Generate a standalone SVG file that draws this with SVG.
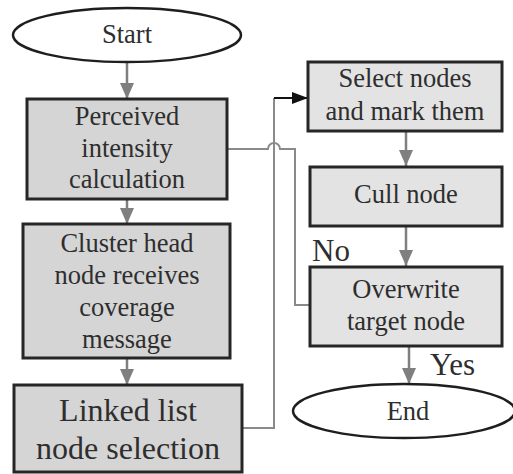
<svg xmlns="http://www.w3.org/2000/svg" width="513" height="474" viewBox="0 0 513 474">
<defs>
<style>
.t{font-family:"Liberation Serif","Times New Roman",serif;font-size:26.5px;fill:#2e2e2e;text-anchor:middle}
.big{font-size:32px}
.lbl{font-size:31px;text-anchor:start}
.boxL{fill:#d5d5d5;stroke:#262626;stroke-width:3}
.boxR{fill:#e3e3e3;stroke:#262626;stroke-width:3}
.ell{fill:#ffffff;stroke:#1e1e1e;stroke-width:2.5}
.arr{stroke:#7f7f7f;stroke-width:2.5;fill:none;marker-end:url(#ag)}
.ln{stroke:#8a8a8a;stroke-width:2;fill:none}
</style>
<marker id="ag" markerUnits="userSpaceOnUse" markerWidth="16" markerHeight="18" refX="16" refY="7" orient="auto" viewBox="0 0 16 14">
<path d="M0,0 L16,7 L0,14 Z" fill="#7f7f7f"/>
</marker>
<marker id="ab" markerUnits="userSpaceOnUse" markerWidth="16" markerHeight="14" refX="16" refY="6" orient="auto" viewBox="0 0 16 12">
<path d="M0,0 L16,6 L0,12 Z" fill="#111"/>
</marker>
</defs>
<rect width="513" height="474" fill="#ffffff"/>
<g id="connectors">
<line class="arr" x1="127" y1="62" x2="127" y2="99"/>
<line class="arr" x1="127" y1="199" x2="127" y2="224"/>
<line class="arr" x1="127" y1="358" x2="127" y2="385"/>
<line class="arr" x1="406" y1="131" x2="406" y2="166"/>
<line class="arr" x1="406" y1="226" x2="406" y2="266"/>
<line class="arr" x1="409" y1="346" x2="409" y2="384"/>
<path class="ln" d="M242,428 H274 V98"/>
<path d="M274,98 H308" stroke="#111" stroke-width="2" fill="none" marker-end="url(#ab)"/>
<path class="ln" d="M227,149 H268 A6,6 0 0 1 280,149 H295 V305 H310"/>
</g>
<g id="start">
<ellipse class="ell" cx="127" cy="35" rx="114" ry="27"/>
<text class="t" x="127" y="43">Start</text>
</g>
<g id="perceived">
<rect class="boxL" x="27" y="99" width="200" height="100"/>
<text class="t" x="127" y="125">Perceived</text>
<text class="t" x="127" y="157">intensity</text>
<text class="t" x="127" y="188">calculation</text>
</g>
<g id="cluster">
<rect class="boxL" x="23" y="224" width="207" height="134"/>
<text class="t" x="127" y="252">Cluster head</text>
<text class="t" x="127" y="284">node receives</text>
<text class="t" x="127" y="316">coverage</text>
<text class="t" x="127" y="348">message</text>
</g>
<g id="linked">
<rect class="boxL" x="14" y="385" width="228" height="87"/>
<text class="t big" x="128" y="421">Linked list</text>
<text class="t big" x="128" y="459">node selection</text>
</g>
<g id="select">
<rect class="boxR" x="308" y="62" width="194" height="69"/>
<text class="t" x="405" y="87">Select nodes</text>
<text class="t" x="405" y="120">and mark them</text>
</g>
<g id="cull">
<rect class="boxR" x="310" y="167" width="192" height="59"/>
<text class="t" x="406" y="203">Cull node</text>
</g>
<g id="overwrite">
<rect class="boxR" x="310" y="267" width="192" height="79"/>
<text class="t" x="406" y="298">Overwrite</text>
<text class="t" x="406" y="330">target node</text>
</g>
<g id="end">
<ellipse class="ell" cx="404" cy="411" rx="111" ry="27"/>
<text class="t" x="408" y="420">End</text>
</g>
<g id="labels">
<text class="t lbl" x="312" y="261">No</text>
<text class="t lbl" x="430" y="375">Yes</text>
</g>
</svg>
